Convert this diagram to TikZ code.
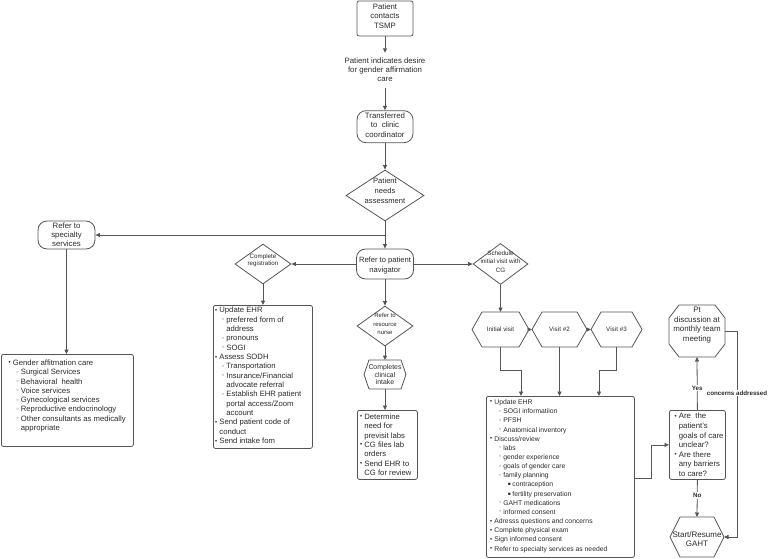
\documentclass[tikz,border=0pt]{standalone}
\usepackage{fontspec}
\setmainfont{Liberation Sans}
\newfontfamily\symf{DejaVu Sans}
\usetikzlibrary{shapes.geometric,arrows.meta,calc}
\definecolor{txt}{HTML}{2A2A2A}
\definecolor{ln}{HTML}{555555}
\newcommand{\fs}[2]{\fontsize{#1}{#2}\selectfont}
\newlength\lpad \newlength\lstep
\newcommand{\bA}{\raisebox{0.6pt}{\symf\fontsize{6}{6}\selectfont •}}
\newcommand{\bB}{\raisebox{0.6pt}{\symf\fontsize{6}{6}\selectfont ◦}}
\newcommand{\bC}{\raisebox{1pt}{\symf\fontsize{4.5}{4.5}\selectfont ▪}}
\newcommand{\LA}[1]{\leavevmode\llap{\bA\hspace{1.5pt}}\mbox{#1}\par}
\newcommand{\LB}[1]{\hspace*{\lstep}\llap{\bB\hspace{1.5pt}}\mbox{#1}\par}
\newcommand{\LC}[1]{\hspace*{2\lstep}\llap{\bC\hspace{1.5pt}}\mbox{#1}\par}
\newcommand{\CA}[1]{\leavevmode\mbox{#1}\par}
\newcommand{\CB}[1]{\hspace*{\lstep}\mbox{#1}\par}
\newcommand{\lbox}[6]{\parbox[c][#2][t]{#1}{\setlength\lpad{#3}\setlength\lstep{#4}\leftskip=\lpad\relax\parindent=0pt\vspace*{#5}#6}}
\newcommand{\zt}[2][0pt]{\raisebox{\dimexpr #1-0.25em\relax}[0pt][0pt]{\makebox[0pt]{\begin{tabular}{@{}c@{}}#2\end{tabular}}}}
\newcommand{\hexo}[2]{\draw[shp] ([xshift=#2]#1.north west) -- ([xshift=-#2]#1.north east) -- (#1.east) -- ([xshift=-#2]#1.south east) -- ([xshift=#2]#1.south west) -- (#1.west) -- cycle;}
\tikzset{
  base/.style={inner sep=0pt, text=txt, draw=ln, line width=0.8pt},
  rbox/.style={base, rectangle, rounded corners=9pt},
  sbox/.style={base, rectangle, rounded corners=2pt},
  dia/.style={base, diamond},
  hexn/.style={inner sep=0pt, outer sep=0pt, text=txt, rectangle},
  lst/.style={base, rectangle, rounded corners=2pt, anchor=north west},
  shp/.style={draw=ln, line width=0.8pt, line join=round},
  arr/.style={draw=ln, line width=0.8pt, -{Triangle[length=4.5pt,width=4pt]}},
  lbl/.style={fill=white, font=\bfseries\fs{6.2}{7}, text=txt, inner sep=1pt},
}
\begin{document}
\begin{tikzpicture}[x=1pt,y=-1pt]
\useasboundingbox (0,0) rectangle (769,559);

\node[sbox, minimum width=56pt, minimum height=35pt, font=\fs{7.8}{9.7}] (tsmp) at (385,18.5) {\zt[1.5pt]{Patient\\contacts\\TSMP}};
\node[inner sep=0pt, text=txt, minimum width=85pt, minimum height=35pt, font=\fs{7.8}{9.2}] (desire) at (385,70.5) {\zt[-0.3pt]{Patient indicates desire\\for gender affirmation\\care}};
\node[rbox, minimum width=56pt, minimum height=32pt, font=\fs{7.8}{9.5}] (trans) at (385,126.7) {\zt[1pt]{Transferred\\to\ \ clinic\\coordinator}};
\node[dia, minimum width=78pt, minimum height=51pt, font=\fs{7.6}{9.6}] (pna) at (385,195.5) {\zt[3.8pt]{Patient\\needs\\assessment}};
\node[rbox, minimum width=57pt, minimum height=28pt, font=\fs{7.8}{8.9}] (spec) at (66.5,235) {\zt[-1pt]{Refer to\\specialty\\services}};
\node[rbox, minimum width=57pt, minimum height=30pt, font=\fs{7.6}{10}] (nav) at (385,264) {\zt[-1.5pt]{Refer to patient\\navigator}};
\node[dia, minimum width=56pt, minimum height=40pt, font=\fs{6.2}{7.6}] (reg) at (263,264) {\zt[3.5pt]{Complete\\registration}};
\node[dia, minimum width=56pt, minimum height=40pt, font=\fs{6}{8.3}] (nurse) at (385,326) {\zt[1.4pt]{Refer to\\resource\\nurse}};
\node[hexn, minimum width=42pt, minimum height=29pt, font=\fs{6.9}{7.6}] (intake) at (385,374.5) {\zt[-1.4pt]{Completes\\clinical\\intake}};
\node[dia, minimum width=55pt, minimum height=41pt, font=\fs{6.3}{8.7}] (sched) at (500.5,264) {\zt[2pt]{Schedule\\initial visit with\\CG}};
\node[hexn, minimum width=57pt, minimum height=35pt, font=\fs{6.3}{8}] (iv) at (500.5,329.5) {\zt{Initial visit}};
\node[hexn, minimum width=55pt, minimum height=35pt, font=\fs{6.3}{8}] (v2) at (559.5,329.5) {\zt{Visit \#2}};
\node[hexn, minimum width=51pt, minimum height=35pt, font=\fs{6.3}{8}] (v3) at (616.5,329.5) {\zt{Visit \#3}};
\node[hexn, minimum width=56pt, minimum height=52pt, font=\fs{7.9}{9.5}] (oct) at (697,331) {\zt[5.8pt]{Pt\\discussion at\\monthly team\\meeting}};
\node[hexn, minimum width=54pt, minimum height=40pt, font=\fs{8}{9.3}] (start) at (697,537) {\zt[-3pt]{Start/Resume\\GAHT}};

\hexo{intake}{5pt}
\hexo{iv}{10pt}
\hexo{v2}{10pt}
\hexo{v3}{10pt}
\hexo{start}{10pt}
\draw[shp] ([xshift=10pt]oct.north west) -- ([xshift=-10pt]oct.north east) -- ([yshift=-13pt]oct.north east) -- ([yshift=13pt]oct.south east) -- ([xshift=-10pt]oct.south east) -- ([xshift=10pt]oct.south west) -- ([yshift=13pt]oct.south west) -- ([yshift=-13pt]oct.north west) -- cycle;

\node[lst, font=\fs{7.7}{9.3}] (gen) at (1,354) {\lbox{132pt}{92pt}{11.5pt}{8pt}{5.5pt}{%
\LA{Gender affitmation care}
\LB{Surgical Services}
\LB{Behavioral\ \ health}
\LB{Voice services}
\LB{Gynecological services}
\LB{Reproductive endocrinology}
\LB{Other consultants as medically}
\CB{appropriate}}};

\node[lst, font=\fs{7.7}{9.33}] (upd) at (213,305) {\lbox{99pt}{143pt}{6pt}{7pt}{2pt}{%
\LA{Update EHR}
\LB{preferred form of}
\CB{address}
\LB{pronouns}
\LB{SOGI}
\LA{Assess SODH}
\LB{Transportation}
\LB{Insurance/Financial}
\CB{advocate referral}
\LB{Establish EHR patient}
\CB{portal access/Zoom}
\CB{account}
\LA{Send patient code of}
\CA{conduct}
\LA{Send intake fom}}};

\node[lst, font=\fs{7.7}{9.45}] (labs) at (357,410) {\lbox{60pt}{69pt}{7pt}{8pt}{3.2pt}{%
\LA{Determine}
\CA{need for}
\CA{previsit labs}
\LA{CG files lab}
\CA{orders}
\LA{Send EHR to}
\CA{CG for review}}};

\node[lst, font=\fs{6.8}{9.16}] (big) at (486,396) {\lbox{148pt}{161pt}{8pt}{9pt}{3.2pt}{%
\LA{Update EHR}
\LB{SOGI informatiion}
\LB{PFSH}
\LB{Anatomical inventory}
\LA{Discuss/review}
\LB{labs}
\LB{gender experience}
\LB{goals of gender care}
\LB{family planning}
\LC{contraception}
\LC{fertility preservation}
\LB{GAHT medications}
\LB{informed consent}
\LA{Adresss questions and concerns}
\LA{Complete physical exam}
\LA{Sign informed consent}
\LA{Refer to specialty services as needed}}};

\node[lst, font=\fs{7.8}{9.6}] (q) at (669,410) {\lbox{56pt}{69pt}{9.5pt}{8pt}{2.8pt}{%
\LA{Are\ \ the}
\CA{patient's}
\CA{goals of care}
\CA{unclear?}
\LA{Are there}
\CA{any barriers}
\CA{to care?}}};

\draw[arr] (tsmp.south) -- (desire.north);
\draw[arr] (desire.south) -- (trans.north);
\draw[arr] (trans.south) -- (pna.north);
\draw[arr] (pna.south) -- (nav.north);
\draw[arr] (pna.south |- spec.east) -- (spec.east);
\draw[arr] (spec.south) -- (spec.south |- gen.north);
\draw[arr] (nav.west) -- (reg.east);
\draw[arr] (reg.south) -- (reg.south |- upd.north);
\draw[arr] (nav.south) -- (nurse.north);
\draw[arr] (nurse.south) -- (intake.north);
\draw[arr] (intake.south) -- (intake.south |- labs.north);
\draw[arr] (nav.east) -- (sched.west);
\draw[arr] (sched.south) -- (iv.north);
\draw[arr] (iv.east) -- (v2.west);
\draw[arr] (v2.east) -- (v3.west);
\coordinate (k1) at (521,370);
\coordinate (k3) at (599,370);
\draw[arr] (iv.south) |- (k1) -- (k1 |- big.north);
\draw[arr] (v2.south) -- (v2.south |- big.north);
\draw[arr] (v3.south) |- (k3) -- (k3 |- big.north);
\coordinate (b1) at (634,478);
\coordinate (k4) at (651,478);
\draw[arr] (b1) -- (k4) |- (q.west);
\draw[arr] (q.north) -- node[lbl, pos=0.415]{Yes} (oct.south);
\draw[arr] (q.south) -- node[lbl, pos=0.42]{No} (start.north);
\coordinate (k5) at (737,331);
\draw[arr] (oct.east) -- (k5) |- node[lbl, pos=0.15]{concerns addressed} (start.east);
\end{tikzpicture}
\end{document}
